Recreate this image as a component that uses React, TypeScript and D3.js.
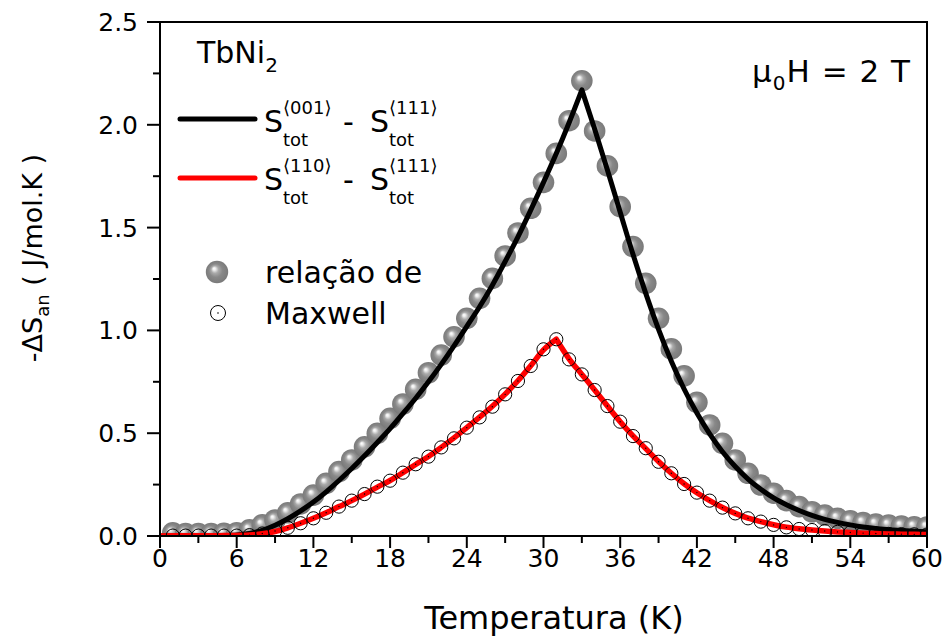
import React from 'react';
import * as d3 from 'd3';

// ---- data ----
const sampleT = [1,2,3,4,5,6,7,8,9,10,11,12,13,14,15,16,17,18,19,20,21,22,23,24,25,26,27,28,29,30,31,32,33,34,35,36,37,38,39,40,41,42,43,44,45,46,47,48,49,50,51,52,53,54,55,56,57,58,59,60];
const maxwell001 = [0.015,0.012,0.012,0.012,0.013,0.016,0.03,0.054,0.078,0.113,0.156,0.199,0.256,0.313,0.37,0.434,0.499,0.572,0.642,0.713,0.794,0.88,0.969,1.059,1.156,1.253,1.362,1.474,1.594,1.72,1.861,2.02,2.214,1.97,1.8,1.602,1.408,1.229,1.059,0.91,0.779,0.65,0.54,0.451,0.37,0.305,0.248,0.208,0.172,0.143,0.118,0.102,0.086,0.074,0.065,0.058,0.053,0.048,0.045,0.043];
const maxwell110 = [0.002,0.002,0.002,0.002,0.002,0.002,0.004,0.012,0.024,0.04,0.062,0.086,0.113,0.143,0.172,0.204,0.24,0.269,0.308,0.349,0.386,0.431,0.475,0.527,0.577,0.629,0.689,0.754,0.827,0.908,0.957,0.859,0.786,0.71,0.632,0.556,0.486,0.427,0.361,0.305,0.253,0.211,0.172,0.138,0.11,0.086,0.07,0.054,0.042,0.034,0.029,0.024,0.02,0.017,0.014,0.012,0.01,0.009,0.008,0.007];

const lineT = [0,1,2,3,4,5,6,7,8,9,10,11,12,13,14,15,16,17,18,19,20,21,22,23,24,25,26,27,28,29,30,31,32,33,34,35,36,37,38,39,40,41,42,43,44,45,46,47,48,49,50,51,52,53,54,55,56,57,58,59,60];
const stot001 = [0,0,0,0,0.001,0.002,0.005,0.012,0.027,0.052,0.084,0.122,0.165,0.215,0.27,0.328,0.39,0.455,0.522,0.595,0.67,0.75,0.835,0.925,1.02,1.115,1.22,1.335,1.455,1.585,1.72,1.86,2.01,2.17,1.98,1.78,1.575,1.37,1.18,1.005,0.85,0.715,0.598,0.497,0.41,0.338,0.277,0.227,0.185,0.152,0.124,0.1,0.081,0.066,0.054,0.044,0.037,0.031,0.027,0.023,0.021];
const stot110 = [0,0.001,0.001,0.001,0.001,0.002,0.003,0.005,0.011,0.022,0.04,0.062,0.086,0.113,0.143,0.172,0.204,0.238,0.27,0.308,0.348,0.387,0.431,0.477,0.527,0.578,0.631,0.69,0.755,0.828,0.905,0.957,0.862,0.786,0.71,0.632,0.556,0.487,0.425,0.362,0.305,0.254,0.21,0.172,0.139,0.11,0.087,0.07,0.055,0.043,0.035,0.029,0.024,0.02,0.017,0.014,0.012,0.01,0.009,0.008,0.007];

const xMajorTicks = [0,6,12,18,24,30,36,42,48,54,60];
const xMinorTicks = [3,9,15,21,27,33,39,45,51,57];
const yMajorTicks = [0,0.5,1.0,1.5,2.0,2.5];
const yMinorTicks = [0.25,0.75,1.25,1.75,2.25];

const FONT = "'DejaVu Sans', Verdana, sans-serif";

export default function App() {
  const W = 945, H = 640;
  const left = 160, right = 927, top = 22, bottom = 536;
  const x = d3.scaleLinear().domain([0, 60]).range([left, right]);
  const y = d3.scaleLinear().domain([0, 2.5]).range([bottom, top]);

  const peakSplit = (ts: number[], vs: number[]) => {
    let pi = 0;
    vs.forEach((v, i) => { if (v > vs[pi]) pi = i; });
    const pts = ts.map((t, i) => [t, vs[i]] as [number, number]);
    return [pts.slice(0, pi + 1), pts.slice(pi)];
  };
  const lineGen = d3.line<[number, number]>()
    .x(d => x(d[0])).y(d => y(d[1])).curve(d3.curveMonotoneX);
  const pathFor = (ts: number[], vs: number[]) => {
    const [a, b] = peakSplit(ts, vs);
    return (lineGen(a) || '') + (lineGen(b) || '').replace(/^M[^CL]*/, '');
  };
  const blackPath = pathFor(lineT, stot001);
  const redPath = pathFor(lineT, stot110);

  const rSphere = 10.8, rCircle = 6.6;

  return (
    <svg width={W} height={H} style={{ position: 'absolute', left: 0, top: 0, background: '#fff' }}
      fontFamily={FONT}>
      <defs>
        <radialGradient id="sph" cx="0.5" cy="0.5" r="0.5" fx="0.36" fy="0.34">
          <stop offset="0" stopColor="#ffffff" />
          <stop offset="0.12" stopColor="#eeeeee" />
          <stop offset="0.33" stopColor="#aaaaaa" />
          <stop offset="0.6" stopColor="#888888" />
          <stop offset="1" stopColor="#7a7a7a" />
        </radialGradient>
        <clipPath id="plot">
          <rect x={left} y={top} width={right - left} height={bottom - top} />
        </clipPath>
      </defs>
      <rect x={0} y={0} width={W} height={H} fill="#fff" />

      <g clipPath="url(#plot)">
        {sampleT.map((t, i) => (
          <circle key={'s' + i} cx={x(t)} cy={y(maxwell001[i])} r={rSphere} fill="url(#sph)" />
        ))}
        <path d={blackPath} fill="none" stroke="#000" strokeWidth={5} strokeLinejoin="round" strokeLinecap="round" />
        <path d={redPath} fill="none" stroke="#ff0000" strokeWidth={5.5} strokeLinejoin="round" strokeLinecap="round" />
        {sampleT.map((t, i) => (
          <g key={'c' + i}>
            <circle cx={x(t)} cy={y(maxwell110[i])} r={rCircle} fill="none" stroke="#000" strokeWidth={1} />
            <circle cx={x(t)} cy={y(maxwell110[i])} r={0.7} fill="#000" />
          </g>
        ))}
      </g>

      {/* frame */}
      <rect x={left} y={top} width={right - left} height={bottom - top} fill="none" stroke="#000" strokeWidth={2} />

      {/* x ticks */}
      {xMajorTicks.map(t => (
        <g key={'xm' + t}>
          <line x1={x(t)} x2={x(t)} y1={bottom} y2={bottom + 12} stroke="#000" strokeWidth={2} />
          <text x={x(t)} y={bottom + 31} textAnchor="middle" fontSize={25}>{t}</text>
        </g>
      ))}
      {xMinorTicks.map(t => (
        <line key={'xn' + t} x1={x(t)} x2={x(t)} y1={bottom} y2={bottom + 7} stroke="#000" strokeWidth={2} />
      ))}
      {/* y ticks */}
      {yMajorTicks.map(v => (
        <g key={'ym' + v}>
          <line x1={left} x2={left - 13} y1={y(v)} y2={y(v)} stroke="#000" strokeWidth={2} />
          <text x={left - 22} y={y(v) + 9} textAnchor="end" fontSize={25}>{d3.format('.1f')(v)}</text>
        </g>
      ))}
      {yMinorTicks.map(v => (
        <line key={'yn' + v} x1={left} x2={left - 7} y1={y(v)} y2={y(v)} stroke="#000" strokeWidth={2} />
      ))}

      {/* axis titles */}
      <text x={554} y={629} textAnchor="middle" fontSize={32}>Temperatura (K)</text>
      <text transform="translate(42,258) rotate(-90)" textAnchor="middle" fontSize={27}>
        -ΔS<tspan fontSize={18} dy={7}>an</tspan><tspan dy={-7}>{'  ( J/mol.K )'}</tspan>
      </text>

      {/* annotations */}
      <text x={197} y={63} fontSize={30}>TbNi<tspan fontSize={20} dy={9}>2</tspan></text>
      <text x={752} y={82} fontSize={31} letterSpacing={1}>μ<tspan fontSize={20} dy={8}>0</tspan><tspan dy={-8}>H = 2 T</tspan></text>

      {/* legend lines */}
      <line x1={180} x2={255} y1={119} y2={119} stroke="#000" strokeWidth={5} strokeLinecap="round" />
      <text x={264} y={132} fontSize={30}>S</text>
      <text x={283} y={114} fontSize={18}>⟨001⟩</text>
      <text x={283} y={146} fontSize={18}>tot</text>
      <text x={343} y={132} fontSize={30}>-</text>
      <text x={370} y={132} fontSize={30}>S</text>
      <text x={389} y={114} fontSize={18}>⟨111⟩</text>
      <text x={389} y={146} fontSize={18}>tot</text>

      <line x1={180} x2={255} y1={178} y2={178} stroke="#ff0000" strokeWidth={5} strokeLinecap="round" />
      <text x={264} y={190} fontSize={30}>S</text>
      <text x={283} y={172} fontSize={18}>⟨110⟩</text>
      <text x={283} y={204} fontSize={18}>tot</text>
      <text x={343} y={190} fontSize={30}>-</text>
      <text x={370} y={190} fontSize={30}>S</text>
      <text x={389} y={172} fontSize={18}>⟨111⟩</text>
      <text x={389} y={204} fontSize={18}>tot</text>

      <circle cx={217} cy={272} r={11.2} fill="url(#sph)" />
      <text x={265} y={283} fontSize={30}>relação de</text>
      <circle cx={218} cy={313} r={7.5} fill="none" stroke="#000" strokeWidth={1} />
      <circle cx={218} cy={313} r={0.8} fill="#000" />
      <text x={265} y={324} fontSize={30}>Maxwell</text>
    </svg>
  );
}
